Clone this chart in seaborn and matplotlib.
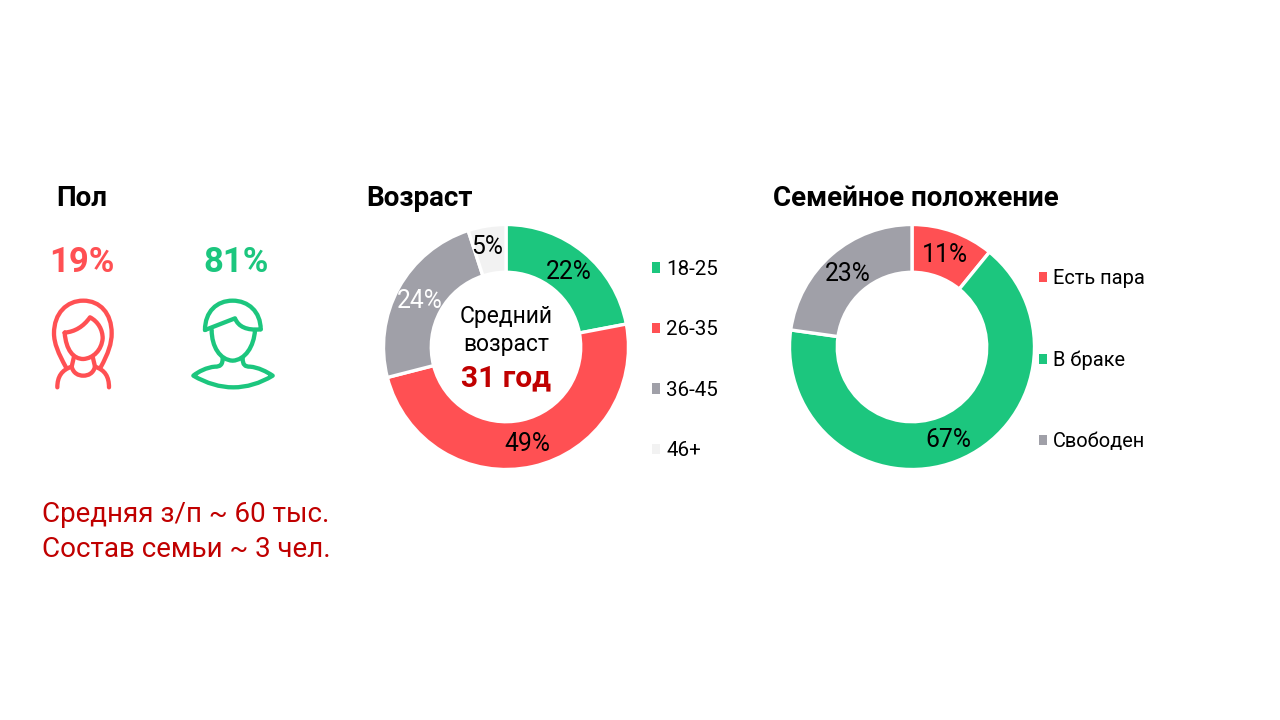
import matplotlib.pyplot as plt
import seaborn as sns
from matplotlib.patches import PathPatch, Patch
from matplotlib.path import Path

# Данные
age_labels = ['18-25', '26-35', '36-45', '46+']
age_values = [22, 49, 24, 5]
family_labels = ['Есть пара', 'В браке', 'Свободен']
family_values = [11, 67, 23]
gender_labels = ['19%', '81%']

GREEN = '#1cc67e'
RED = '#ff5053'
GREY = '#a0a0a8'
LIGHT = '#f2f2f2'
DARK_RED = '#c00000'
palette = sns.color_palette([GREEN, RED, GREY, LIGHT])

sns.set_theme(style='white')
plt.rcParams['font.family'] = ['Roboto', 'DejaVu Sans']

W, H = 1280, 720
fig = plt.figure(figsize=(12.8, 7.2), dpi=100)
bg = fig.add_axes([0, 0, 1, 1])
bg.set_xlim(0, W)
bg.set_ylim(H, 0)
bg.axis('off')


def donut(cx, cy, r, values, colors, labels, pct_colors, legend_anchor, spacing, legend_size):
    ax = fig.add_axes([(cx - r) / W, 1 - (cy + r) / H, 2 * r / W, 2 * r / H])
    wedges, _, pcts = ax.pie(values, colors=colors, startangle=90, counterclock=False,
                             radius=1, normalize=True, pctdistance=0.805,
                             autopct=lambda p: f'{round(p * sum(values) / 100):d}%',
                             wedgeprops=dict(width=0.39, edgecolor='white', linewidth=2.4))
    ax.set_xlim(-1, 1)
    ax.set_ylim(-1, 1)
    for t, c in zip(pcts, pct_colors):
        t.set_color(c)
        t.set_fontsize(17.8)
        x, y = t.get_position()
        t.set_position((x, y - 0.01))
    handles = [Patch(facecolor=c, linewidth=0, label=l) for c, l in zip(colors, labels)]
    leg = ax.legend(handles=handles, loc='center left', bbox_to_anchor=legend_anchor, frameon=False,
                    fontsize=legend_size, handlelength=0.4, handleheight=0.4, handletextpad=0.27,
                    labelspacing=spacing, borderpad=0, borderaxespad=0)
    for t in leg.get_texts():
        t.set_color('black')
    return pcts


age_pcts = donut(506, 347, 122.5, age_values, palette[:4], age_labels,
                 ['black', 'black', 'white', 'black'], (1.097, 0.447), 2.02, 14.8)
donut(912, 347, 122.5, family_values, [RED, GREEN, GREY], family_labels,
      ['black', 'black', 'black'], (1.02, 0.447), 3.1, 14.4)
# подпись 5% в оригинале сдвинута
x5, y5 = age_pcts[3].get_position()
age_pcts[3].set_position((x5 - 0.03, y5 + 0.03))

# Заголовки
for x, txt in [(56.5, 'Пол'), (366.5, 'Возраст'), (773, 'Семейное положение')]:
    bg.text(x, 198.5, txt, fontsize=20, fontweight='bold', va='center', ha='left', color='black')

bg.text(82, 263, gender_labels[0], color=RED, fontsize=25, fontweight='bold', ha='center', va='center')
bg.text(236, 263, gender_labels[1], color=GREEN, fontsize=25, fontweight='bold', ha='center', va='center')

# Текст в центре
bg.text(506, 317, 'Средний', fontsize=16.5, ha='center', va='center', color='black')
bg.text(506, 345, 'возраст', fontsize=16.5, ha='center', va='center', color='black')
bg.text(506, 378, '31 год', fontsize=21.5, fontweight='bold', ha='center', va='center', color=DARK_RED)

bg.text(42, 515, 'Средняя з/п ~ 60 тыс.', fontsize=19.95, color=DARK_RED, va='center')
bg.text(42, 549.5, 'Состав семьи ~ 3 чел.', fontsize=19.95, color=DARK_RED, va='center')


# Иконки (контуры в координатах пикселей)
def icon(segments, color):
    for start, curves in segments:
        verts, codes = [start], [Path.MOVETO]
        for c in curves:
            verts += c
            codes += [Path.LINETO] if len(c) == 1 else [Path.CURVE4] * 3
        verts = [(30 + x / 3, 170 + y / 3) for x, y in verts]
        bg.add_patch(PathPatch(Path(verts, codes), fill=False, edgecolor=color, lw=3.1,
                               capstyle='round', joinstyle='round'))


woman = [
    ((108, 592), [[(85, 550), (72, 520), (72, 490)], [(72, 430), (110, 392), (160, 392)],
                  [(210, 392), (245, 430), (245, 490)], [(245, 520), (235, 550), (212, 592)]]),
    ((104, 488), [[(135, 485), (160, 470), (180, 442)], [(205, 455), (218, 480), (218, 505)],
                  [(215, 540), (190, 565), (160, 567)], [(130, 567), (108, 540), (104, 488)]]),
    ((132, 560), [[(125, 590)], [(130, 610), (145, 617), (160, 617)],
                  [(175, 617), (190, 610), (195, 590)], [(188, 560)]]),
    ((82, 652), [[(82, 620), (95, 600), (125, 590)]]),
    ((237, 652), [[(237, 620), (225, 600), (195, 590)]]),
]
man = [
    ((525, 480), [[(525, 425), (560, 392), (608, 392)], [(655, 392), (692, 425), (692, 478)]]),
    ((525, 480), [[(615, 445)], [(625, 470), (650, 482), (692, 478)]]),
    ((545, 480), [[(545, 530), (570, 570), (608, 572)], [(645, 570), (672, 530), (675, 480)]]),
    ((578, 565), [[(578, 585), (570, 590), (555, 590)], [(530, 592), (505, 605), (490, 617)],
                  [(530, 640), (570, 652), (610, 652)], [(650, 652), (690, 640), (728, 617)],
                  [(710, 605), (685, 592), (660, 590)], [(645, 590), (638, 585), (638, 565)]]),
]
icon(woman, RED)
icon(man, GREEN)

fig.savefig('out.png', dpi=100, facecolor='white')
